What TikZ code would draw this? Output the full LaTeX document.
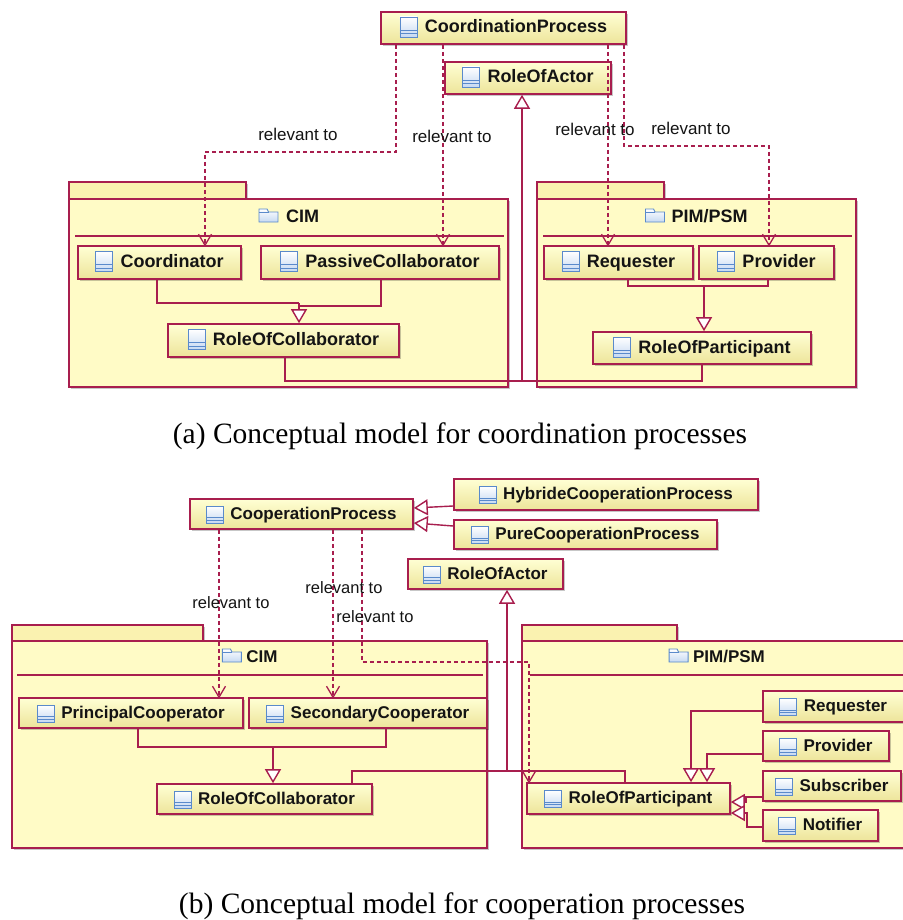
\documentclass[tikz,border=0pt]{standalone}
\usepackage{fontspec}
\setmainfont{Liberation Serif}
\newfontfamily\lsans{Liberation Sans}
\usetikzlibrary{arrows.meta,shadows,decorations.markings}
\definecolor{crim}{HTML}{A81E4E}
\definecolor{boxtop}{HTML}{FFFFD4}
\definecolor{boxbot}{HTML}{EDE49A}
\definecolor{pkgfill}{HTML}{FFFBC6}
\definecolor{tabfill}{HTML}{FAF2B0}
\definecolor{txt}{HTML}{141414}
\definecolor{icblue}{HTML}{5A8ACB}
\definecolor{icfill}{HTML}{C6D9F2}
\tikzset{
  shad/.style={drop shadow={shadow xshift=2pt,shadow yshift=-2pt,fill=black,opacity=0.22}},
  cls/.style={rectangle, draw=crim, line width=1.6pt, top color=boxtop, bottom color=boxbot,
    inner sep=0pt, text=txt, shad, text height=14pt, text depth=4pt},
  clsA/.style={cls, font=\lsans\bfseries\fontsize{18}{20}\selectfont},
  clsB/.style={cls, font=\lsans\bfseries\fontsize{17}{19}\selectfont},
  pkg/.style={rectangle, draw=crim, line width=1.6pt, fill=pkgfill, inner sep=0pt, shad},
  pkgtab/.style={rectangle, draw=crim, line width=1.6pt, fill=tabfill, inner sep=0pt, shad},
  ptA/.style={font=\lsans\bfseries\fontsize{18}{20}\selectfont, inner sep=0pt, text=txt},
  ptB/.style={font=\lsans\bfseries\fontsize{17}{19}\selectfont, inner sep=0pt, text=txt},
  sepline/.style={draw=crim, line width=1.3pt},
  conn/.style={draw=crim, line width=1.4pt},
  dep/.style={conn, line width=1.2pt, dash pattern=on 4pt off 3pt,
    postaction={decorate, decoration={markings, mark=at position 1 with
      {\draw[solid, draw=crim, line width=1.3pt, line join=miter] (-11pt,6.5pt) -- (0pt,0pt) -- (-11pt,-6.5pt);}}}},
  gen/.style={conn, -{Triangle[length=14pt,width=16pt,fill=white]}},
  lblA/.style={font=\lsans\fontsize{17}{19}\selectfont, inner sep=0pt, text=txt},
  lblB/.style={font=\lsans\fontsize{16.5}{19}\selectfont, inner sep=0pt, text=txt},
  captxt/.style={font=\fontsize{29.5}{33}\selectfont, inner sep=0pt, text=black, anchor=base},
  icon/.style={draw=icblue, line width=0.9pt, top color=white, bottom color=icfill},
  iconl/.style={draw=icblue, line width=0.8pt},
  iconA/.pic={\draw[icon] (0,-16) rectangle (17,4); \draw[iconl] (0,-3) -- (17,-3) (0,0.5) -- (17,0.5);},
  iconB/.pic={\draw[icon] (0,-13) rectangle (17,4); \draw[iconl] (0,-1.5) -- (17,-1.5) (0,1.3) -- (17,1.3);},
  folder/.pic={\draw[icon] (0,0) -- (0,-13) -- (8,-13) -- (9.5,-10) -- (19,-10) -- (19,0) -- cycle;
               \draw[iconl] (0,-10) -- (9.5,-10);},
}
\newcommand\mkclsA[6]{\node[clsA, minimum width=#4pt, minimum height=#5pt] (#1) at (#2,#3) {\hspace*{25pt}#6};\pic at (#1.text) {iconA};}
\newcommand\mkclsB[6]{\node[clsB, minimum width=#4pt, minimum height=#5pt] (#1) at (#2,#3) {\hspace*{24pt}#6};\pic at (#1.text) {iconB};}
\begin{document}
\begin{tikzpicture}[x=1pt,y=-1pt]
\useasboundingbox[fill=white] (0,0) rectangle (902,920);

% ================= (a) packages =================
\node[pkgtab, minimum width=177pt, minimum height=17pt] (cimAtab) at (157.5,190.5) {};
\node[pkg, minimum width=439pt, minimum height=188pt] (cimA) at (288.5,293) {};
\draw[sepline] (75,236) -- (504,236);
\node[ptA, anchor=base] (cimAt) at (289,222) {\hspace*{27pt}CIM};
\pic at (cimAt.text) {folder};

\node[pkgtab, minimum width=127pt, minimum height=17pt] (pimAtab) at (600.5,190.5) {};
\node[pkg, minimum width=319pt, minimum height=188pt] (pimA) at (696.5,293) {};
\draw[sepline] (543,236) -- (852,236);
\node[ptA, anchor=base] (pimAt) at (696.5,222) {\hspace*{26pt}PIM/PSM};
\pic at (pimAt.text) {folder};

% ================= (b) packages =================
\node[pkgtab, minimum width=191pt, minimum height=16pt] (cimBtab) at (107.5,633) {};
\node[pkg, minimum width=475pt, minimum height=207pt] (cimB) at (249.5,744.5) {};
\draw[sepline] (17,675) -- (483,675);
\node[ptB, anchor=base] (cimBt) at (250,662) {\hspace*{24pt}CIM};
\pic at (cimBt.text) {folder};

\node[pkgtab, minimum width=155pt, minimum height=16pt] (pimBtab) at (599.5,633) {};
\node[pkg, minimum width=390pt, minimum height=207pt] (pimB) at (717,744.5) {};
\draw[sepline] (530,675) -- (908,675);
\node[ptB, anchor=base] (pimBt) at (717,662) {\hspace*{24pt}PIM/PSM};
\pic at (pimBt.text) {folder};

% ================= junction coordinates =================
\coordinate (jA) at (522,381);
\coordinate (jCA) at (299,303);
\coordinate (jPA) at (704,286);
\coordinate (jB) at (507,771);
\coordinate (jCB) at (273,747);

% ================= (a) classes =================
\mkclsA{cp}{503.5}{28}{245}{32}{CoordinationProcess}
\mkclsA{roa}{528}{78}{166}{32}{RoleOfActor}
\mkclsA{coord}{159.5}{262.5}{163}{33}{Coordinator}
\mkclsA{pc}{380}{262.5}{238}{33}{PassiveCollaborator}
\mkclsA{rocA}{283.5}{340.5}{231}{33}{RoleOfCollaborator}
\mkclsA{req}{618.5}{262.5}{149}{33}{Requester}
\mkclsA{prov}{766.5}{262.5}{135}{33}{Provider}
\mkclsA{rop}{702}{348}{218}{32}{RoleOfParticipant}

% ================= (b) classes =================
\mkclsB{coP}{301.5}{514}{223}{30}{CooperationProcess}
\mkclsB{hyb}{606}{494.5}{304}{31}{HybrideCooperationProcess}
\mkclsB{pure}{585.5}{534.5}{263}{29}{PureCooperationProcess}
\mkclsB{roaB}{485.5}{574}{155}{30}{RoleOfActor}
\mkclsB{prin}{131}{713}{224}{30}{PrincipalCooperator}
\mkclsB{sec}{368}{713}{238}{30}{SecondaryCooperator}
\mkclsB{rocB}{264.5}{799}{215}{30}{RoleOfCollaborator}
\mkclsB{reqB}{833.5}{706.5}{141}{31}{Requester}
\mkclsB{provB}{826}{746}{126}{30}{Provider}
\mkclsB{subB}{832}{786}{138}{30}{Subscriber}
\mkclsB{notB}{820.5}{825.5}{115}{31}{Notifier}
\mkclsB{ropB}{628.5}{798.5}{203}{31}{RoleOfParticipant}

% ================= (a) connectors =================
\draw[dep] (cp.south -| 396,0) |- (205,152) -- (coord.north -| 205,0);
\draw[dep] (cp.south -| 443,0) -- (pc.north -| 443,0);
\draw[dep] (cp.south -| 608,0) -- (req.north -| 608,0);
\draw[dep] (cp.south -| 624,0) |- (769,146) -- (prov.north -| 769,0);
\node[lblA] (la1) at (298,134) {relevant to};
\node[lblA] (la2) at (452,136) {relevant to};
\node[lblA] (la3) at (595,129) {relevant to};
\node[lblA] (la4) at (691,128) {relevant to};

\draw[conn] (coord.south -| 157,0) |- (jCA);
\draw[conn] (pc.south -| 381,0) |- (299,306);
\draw[gen] (jCA) -- (rocA.north -| jCA);
\draw[conn] (req.south -| 628,0) |- (jPA) -| (prov.south -| 768,0);
\draw[gen] (jPA) -- (rop.north -| jPA);
\draw[conn] (rocA.south -| 285,0) |- (jA) -| (rop.south -| 702,0);
\draw[gen] (jA) -- (roa.south -| jA);

% ================= (b) connectors =================
\draw[gen] (hyb.west |- 0,506) -- (coP.east |- 0,508);
\draw[gen] (pure.west |- 0,526) -- (coP.east |- 0,523);
\draw[dep] (coP.south -| 219,0) -- (prin.north -| 219,0);
\draw[dep] (coP.south -| 333,0) -- (sec.north -| 333,0);
\draw[dep] (coP.south -| 362,0) |- (529,662) -- (ropB.north -| 529,0);
\node[lblB] (lb1) at (231,603) {relevant to};
\node[lblB] (lb2) at (344,588) {relevant to};
\node[lblB] (lb3) at (375,617) {relevant to};

\draw[conn] (prin.south -| 138,0) |- (jCB) -| (sec.south -| 386,0);
\draw[gen] (jCB) -- (rocB.north -| jCB);
\draw[conn] (rocB.north -| 352,0) |- (jB) -| (ropB.north -| 625,0);
\draw[gen] (jB) -- (roaB.south -| jB);

\draw[gen] (reqB.west |- 0,711) -| (ropB.north -| 691,0);
\draw[gen] (provB.west |- 0,754) -| (ropB.north -| 707,0);
\draw[gen] (subB.west |- 0,797) -- (746,797) -- (746,802) -- (ropB.east |- 0,802);
\draw[gen] (notB.west |- 0,827) -- (747,827) -- (747,813) -- (ropB.east |- 0,813);

% ================= captions =================
\node[captxt] (capA) at (460,443) {(a) Conceptual model for coordination processes};
\node[captxt] (capB) at (462,913) {(b) Conceptual model for cooperation processes};
\end{tikzpicture}
\end{document}
